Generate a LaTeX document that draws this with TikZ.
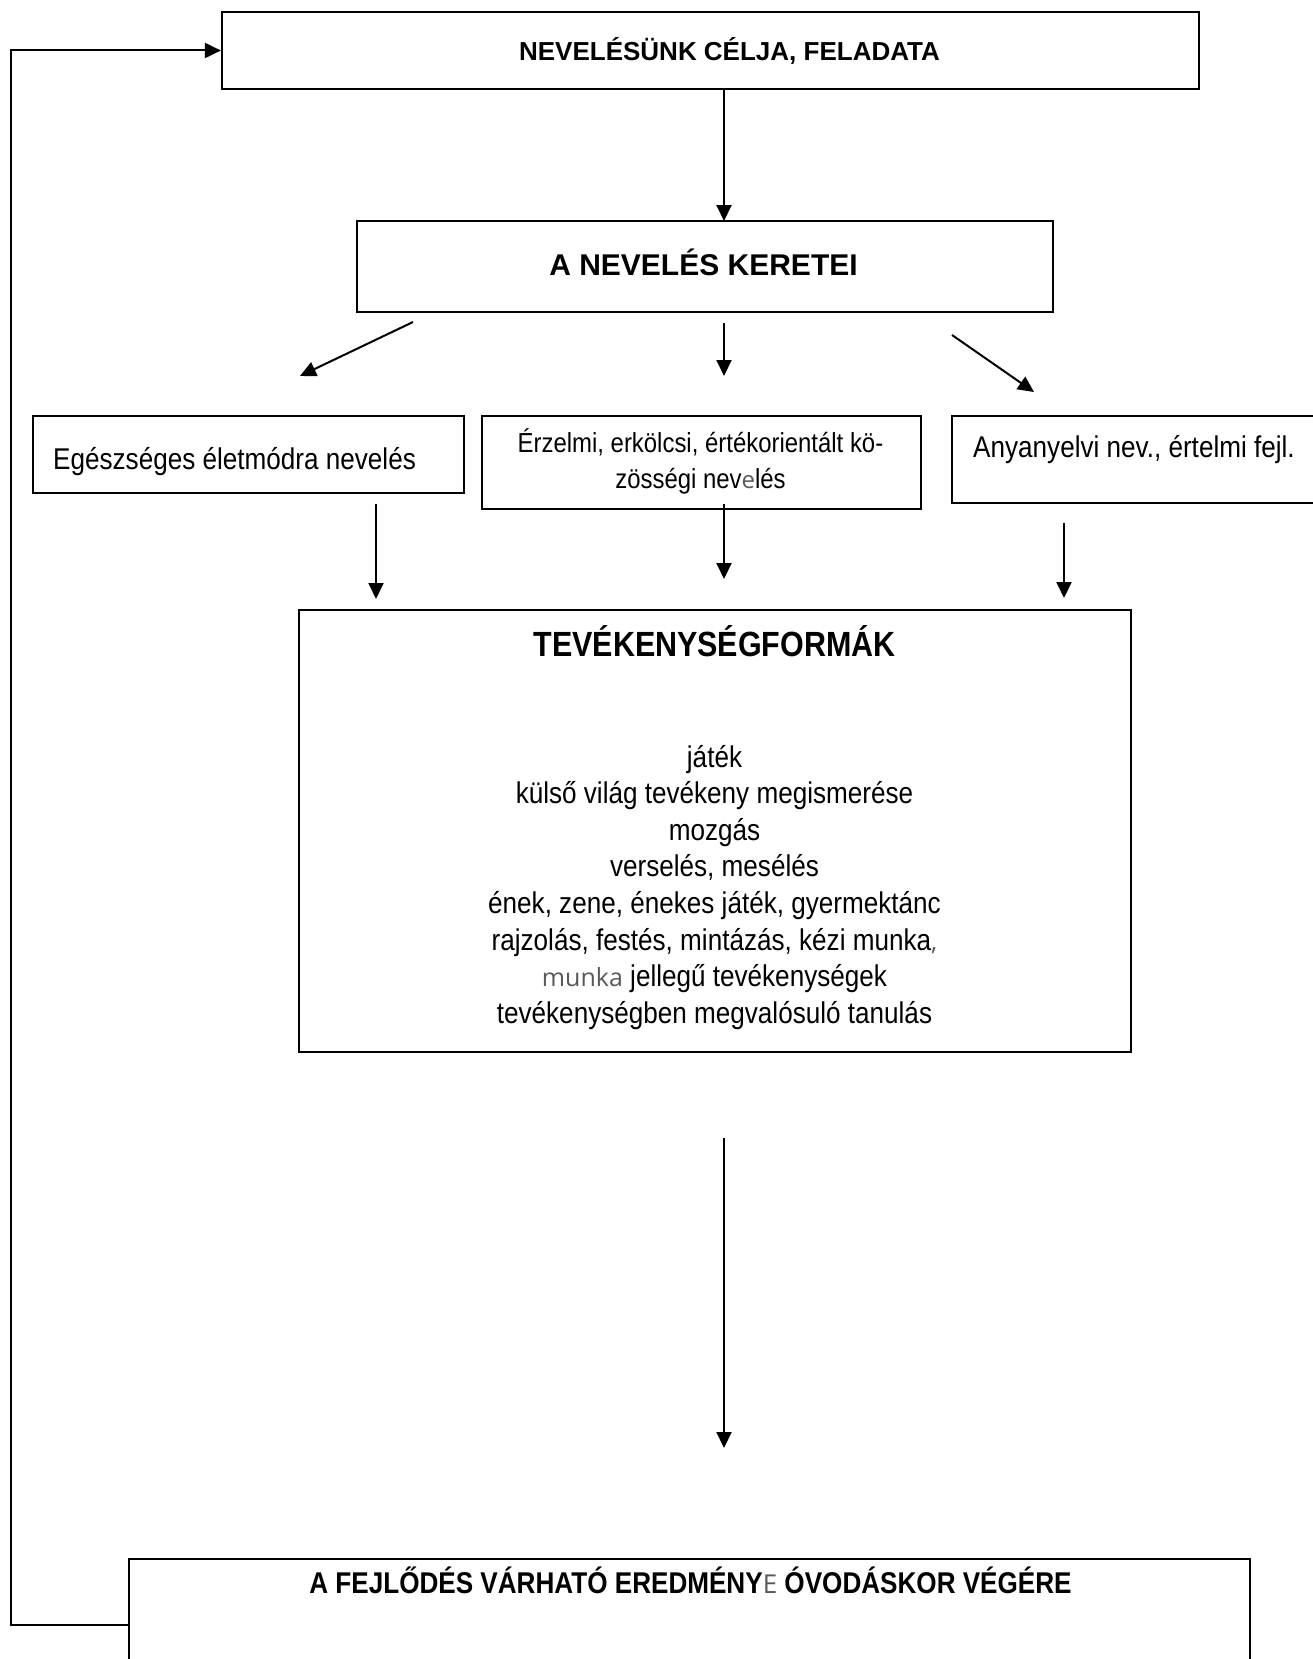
\documentclass[tikz,border=0pt]{standalone}
\usepackage{fontspec}
\setmainfont{Liberation Sans}
\newfontfamily\nar[FakeStretch=0.87]{Liberation Sans}
\newfontfamily\lite{Open Sans}
\usetikzlibrary{arrows.meta}
\tikzset{
  box/.style={draw, line width=2.2pt, inner sep=0pt, fill=none},
  arr/.style={line width=2pt, -{Triangle[length=16pt,width=15pt]}},
  txt/.style={inner sep=0pt, anchor=base},
  txtw/.style={inner sep=0pt, anchor=base west},
}
\definecolor{litegray}{gray}{0.35}
\begin{document}
\begin{tikzpicture}[x=1pt, y=-1pt]
\useasboundingbox (0,0) rectangle (1313,1659);
% boxes
\node[box, minimum width=977pt, minimum height=77pt]  (top) at (710.5,50.5) {};
\node[box, minimum width=696pt, minimum height=91pt]  (ker) at (705,266.5) {};
\node[box, minimum width=431pt, minimum height=77pt]  (egs) at (248.5,454.5) {};
\node[box, minimum width=439pt, minimum height=93pt]  (erz) at (701.5,462.5) {};
\node[box, minimum width=380pt, minimum height=87pt]  (any) at (1142,459.5) {};
\node[box, minimum width=832pt, minimum height=442pt] (tev) at (715,831) {};
\node[box, minimum width=1121pt, minimum height=121pt] (bot) at (689.5,1619.5) {};
% texts
\node[txt] (ttop) at (729.5,61) {\fontsize{26}{31}\selectfont\bfseries NEVELÉSÜNK CÉLJA, FELADATA};
\node[txt] (tker) at (703.5,275) {\fontsize{30}{36}\selectfont\bfseries A NEVELÉS KERETEI};
\node[txtw] (tegs) at (53,469) {\nar\fontsize{30}{36}\selectfont Egészséges életmódra nevelés};
\node[txt] (terz1) at (700.5,452) {\nar\fontsize{27.5}{36}\selectfont Érzelmi, erkölcsi, értékorientált kö-};
\node[txt] (terz2) at (700.5,488) {\nar\fontsize{27.5}{36}\selectfont zösségi nev{\lite\color{litegray}\fontsize{24}{36}\selectfont e}lés};
\node[txtw] (tany) at (973,457) {\nar\fontsize{30}{36}\selectfont Anyanyelvi nev., értelmi fejl.};
\node[txt] (ttev) at (714.5,656) {\nar\fontsize{35}{42}\selectfont\bfseries TEVÉKENYSÉGFORMÁK};
\node[txt] (l1) at (714.5,767) {\nar\fontsize{30}{36}\selectfont játék};
\node[txt] (l2) at (714.5,803.6) {\nar\fontsize{30}{36}\selectfont külső világ tevékeny megismerése};
\node[txt] (l3) at (714.5,840.2) {\nar\fontsize{30}{36}\selectfont mozgás};
\node[txt] (l4) at (714.5,876.8) {\nar\fontsize{30}{36}\selectfont verselés, mesélés};
\node[txt] (l5) at (714.5,913.4) {\nar\fontsize{30}{36}\selectfont ének, zene, énekes játék, gyermektánc};
\node[txt] (l6) at (714.5,950) {\nar\fontsize{30}{36}\selectfont rajzolás, festés, mintázás, kézi munka{\lite\color{litegray}\fontsize{25}{36}\selectfont ,}};
\node[txt] (l7) at (714.5,986.6) {\nar\fontsize{30}{36}\selectfont {\lite\color{litegray}\fontsize{25}{36}\selectfont munka} jellegű tevékenységek};
\node[txt] (l8) at (714.5,1023.2) {\nar\fontsize{30}{36}\selectfont tevékenységben megvalósuló tanulás};
\node[txt] (tbot) at (690.5,1593) {\nar\fontsize{30}{36}\selectfont\bfseries A FEJLŐDÉS VÁRHATÓ EREDMÉNY{\lite\mdseries\color{litegray}\fontsize{26}{36}\selectfont E} ÓVODÁSKOR VÉGÉRE};
% connector end points
\coordinate (a1s) at (724,89);   \coordinate (a1e) at (724,221);
\coordinate (a2s) at (413,322);  \coordinate (a2e) at (300,376);
\coordinate (a3s) at (724,323);  \coordinate (a3e) at (724,376);
\coordinate (a4s) at (952,335);  \coordinate (a4e) at (1034,392);
\coordinate (a5s) at (376,504);  \coordinate (a5e) at (376,599);
\coordinate (a6s) at (724,504);  \coordinate (a6e) at (724,579);
\coordinate (a7s) at (1064,523); \coordinate (a7e) at (1064,598);
\coordinate (a8s) at (724,1138); \coordinate (a8e) at (724,1448);
\coordinate (fbA) at (128,1625); \coordinate (fbB) at (11,1625);
\coordinate (fbC) at (11,50.5);
% connectors
\draw[arr] (a1s) -- (a1e);
\draw[arr] (a2s) -- (a2e);
\draw[arr] (a3s) -- (a3e);
\draw[arr] (a4s) -- (a4e);
\draw[arr] (a5s) -- (a5e);
\draw[arr] (a6s) -- (a6e);
\draw[arr] (a7s) -- (a7e);
\draw[arr] (a8s) -- (a8e);
\draw[arr] (fbA) -- (fbB) -- (fbC) -- (top.west);
\end{tikzpicture}
\end{document}
